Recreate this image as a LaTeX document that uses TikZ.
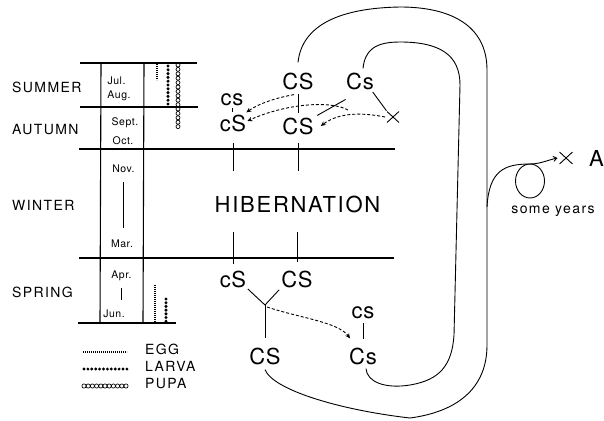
\documentclass[tikz,border=0pt]{standalone}
\usepackage{fontspec}
\setmainfont{TeX Gyre Heros}
\newfontfamily\trackA[LetterSpace=10]{TeX Gyre Heros}
\newfontfamily\trackB[LetterSpace=5]{TeX Gyre Heros}
\newfontfamily\trackC[LetterSpace=8]{TeX Gyre Heros}
\newfontfamily\trackD[LetterSpace=3]{TeX Gyre Heros}
\usetikzlibrary{arrows.meta,shapes.misc}
\tikzset{
  season/.style={font=\trackA\fontsize{14}{16}\selectfont, anchor=west, inner sep=0pt},
  month/.style={font=\trackB\fontsize{10.5}{12}\selectfont, anchor=base, inner sep=0pt},
  gen/.style={font=\trackD\fontsize{22}{24}\selectfont, inner sep=0pt},
  xmark/.style={cross out, draw, line width=0.9pt, minimum width=11pt, minimum height=10pt, inner sep=0pt},
  legendtxt/.style={font=\trackA\fontsize{14}{16}\selectfont, anchor=west, inner sep=0pt},
  note/.style={font=\trackA\fontsize{14}{16}\selectfont, inner sep=0pt},
  hib/.style={font=\trackC\fontsize{22}{24}\selectfont, inner sep=0pt},
  rule/.style={line width=1.1pt},
  link/.style={line width=0.9pt},
  loopline/.style={line width=0.9pt},
  dasharrow/.style={line width=0.9pt, dash pattern=on 3pt off 2pt, -{Stealth[length=5pt,width=4.5pt]}},
  solidarrow/.style={line width=0.9pt, -{Straight Barb[length=3.5pt,width=5pt]}},
  eggline/.style={line width=1.1pt, dash pattern=on 0.7pt off 1.3pt},
  larvadot/.style={fill=black},
  puparing/.style={line width=0.7pt},
}
\begin{document}
\begin{tikzpicture}[x=1pt,y=-1pt]
\useasboundingbox (0,0) rectangle (604,420);
% ---- table rules
\draw[rule] (80,63) -- (197,63);
\draw[rule] (80,107) -- (198,107);
\draw[rule] (79,149) -- (395,149);
\draw[rule] (79,258) -- (394,258);
\draw[rule] (78,323) -- (176,323);
\draw[rule] (101,63) -- (100,323);
\draw[rule] (144,63) -- (143,323);
% ---- seasons
\node[season] (summer) at (12,87) {SUMMER};
\node[season] (autumn) at (12,130) {AUTUMN};
\node[season] (winter) at (12,205) {WINTER};
\node[season] (spring) at (12,292) {SPRING};
% ---- months
\node[month] (jul) at (116.5,84) {Jul.};
\node[month] (aug) at (119,98) {Aug.};
\node[month] (sept) at (125,125) {Sept.};
\node[month] (oct) at (123,144) {Oct.};
\node[month] (nov) at (123.5,172) {Nov.};
\node[month] (mar) at (122,247) {Mar.};
\node[month] (apr) at (121.5,278) {Apr.};
\node[month] (jun) at (114,317) {Jun.};
\draw[link, shorten <=10pt, shorten >=11pt] (nov.south) -- (nov.south |- mar.north);
\draw[link, shorten <=8pt, shorten >=9pt] (apr.south) -- (apr.south |- jun.north);
% ---- stages in the table
\draw[eggline] (157,64) -- (157,80);
\foreach \k in {0,...,10} \fill[larvadot] (168,{66+3.8*\k}) circle[radius=1.7pt];
\foreach \k in {0,...,14} \draw[puparing] (178,{65+4.4*\k}) circle[radius=2pt];
\draw[eggline] (155,285) -- (155,322);
\foreach \k in {0,...,6} \fill[larvadot] (166,{299+3.7*\k}) circle[radius=1.7pt];
% ---- legend
\draw[eggline] (83,352) -- (127,352);
\foreach \k in {0,...,11} \fill[larvadot] ({84+3.9*\k},369) circle[radius=1.6pt];
\foreach \k in {0,...,10} \draw[puparing] ({84+4.2*\k},386) circle[radius=2.1pt];
\node[legendtxt] (egg) at (145,349) {EGG};
\node[legendtxt] (larva) at (145,366.5) {LARVA};
\node[legendtxt] (pupa) at (145,384) {PUPA};
% ---- genotypes, top
\node[gen] (topCS) at (298,81) {CS};
\node[gen] (topCs) at (360,81) {Cs};
\node[gen] (autcs) at (232,100) {cs};
\node[gen] (autcS) at (233,123) {cS};
\node[gen] (autCS) at (298,126) {CS};
\node[xmark] (cross) at (393,117) {};
\draw[link, shorten <=2pt, shorten >=2pt] (autcs.south) -- (autcs.south |- autcS.north);
\draw[link, shorten <=4pt, shorten >=4pt] (topCS.south) -- (topCS.south |- autCS.north);
\draw[link, shorten <=20pt, shorten >=4pt] ([xshift=3pt]topCs.south) -- (autCS.north east);
\draw[link, shorten <=3pt, shorten >=1pt] ([xshift=-3pt]topCs.south east) -- (cross.north west);
\coordinate (c2) at (348,110);
\draw[dasharrow] ([xshift=-4pt,yshift=-5pt]topCS.south) .. controls (275,98) and (258,104) .. ([yshift=2pt]autcS.north east);
\draw[dasharrow] (c2) .. controls (330,100) and (285,104) .. ([xshift=1pt,yshift=2pt]autcS.east);
\draw[dasharrow] ([xshift=-2pt]cross.west) .. controls (360,112) and (338,113) .. ([xshift=7pt]autCS.east);
% ---- hibernation
\node[hib] (hibernation) at (297.5,204) {HIBERNATION};
\node[gen] (sprcS) at (233,279) {cS};
\node[gen] (sprCS) at (297,279) {CS};
\draw[link] (autcS.south) ++(0,11) -- ++(0,28);
\draw[link] (autCS.south) ++(0,8) -- ++(0,28);
\draw[link] (sprcS.north) ++(0,-6) -- ++(0,-32);
\draw[link] (sprCS.north) ++(0,-8) -- ++(0,-30);
% ---- spring cross
\coordinate (junc) at (265,305);
\node[gen] (lowCS) at (265,356) {CS};
\node[gen] (sprcs) at (363,313) {cs};
\node[gen] (sprCs) at (363,356) {Cs};
\draw[link, shorten <=2pt] (sprcS.south east) -- (junc);
\draw[link, shorten <=3pt] (sprCS.south west) -- (junc);
\draw[link, shorten >=9pt] (junc) -- (lowCS.north);
\draw[link, shorten <=4pt, shorten >=8pt] (sprcs.south) -- (sprcs.south |- sprCs.north);
\draw[dasharrow] ([xshift=2pt,yshift=-2pt]junc) .. controls (300,318) and (338,322) .. ([xshift=1pt,yshift=9pt]sprCs.north west);
% ---- life-cycle loops
\draw[loopline] ([yshift=10pt]topCS.north) .. controls (302,25) and (340,8) .. (400,7)
  .. controls (450,7) and (487,25) .. (487,70) -- (487,345)
  .. controls (487,390) and (455,412) .. (410,418)
  .. controls (340,410) and (273,390) .. ([yshift=-5pt]lowCS.south);
\draw[loopline] ([xshift=3pt,yshift=4pt]topCs.north) .. controls (365,50) and (375,42) .. (400,42)
  .. controls (440,42) and (460,55) .. (460,85) -- (454,335)
  .. controls (452,365) and (440,380) .. (410,385)
  .. controls (385,389) and (367,382) .. ([xshift=3pt,yshift=-4pt]sprCs.south);
% ---- some years
\coordinate (edge) at (487,207);
\coordinate (looptop) at (530,164);
\node[xmark, minimum width=12pt, minimum height=11pt] (death) at (566,158) {};
\node[gen, anchor=west] (alabel) at (589,158) {A};
\draw[loopline] (edge) .. controls (489,170) and (505,164) .. (looptop);
\draw[loopline] (530,181) ellipse[x radius=14.5pt, y radius=17pt];
\draw[solidarrow] (looptop) .. controls (540,164) and (548,160) .. ([xshift=-2pt]death.west);
\node[note] (years) at (553,211) {some years};
\end{tikzpicture}
\end{document}
